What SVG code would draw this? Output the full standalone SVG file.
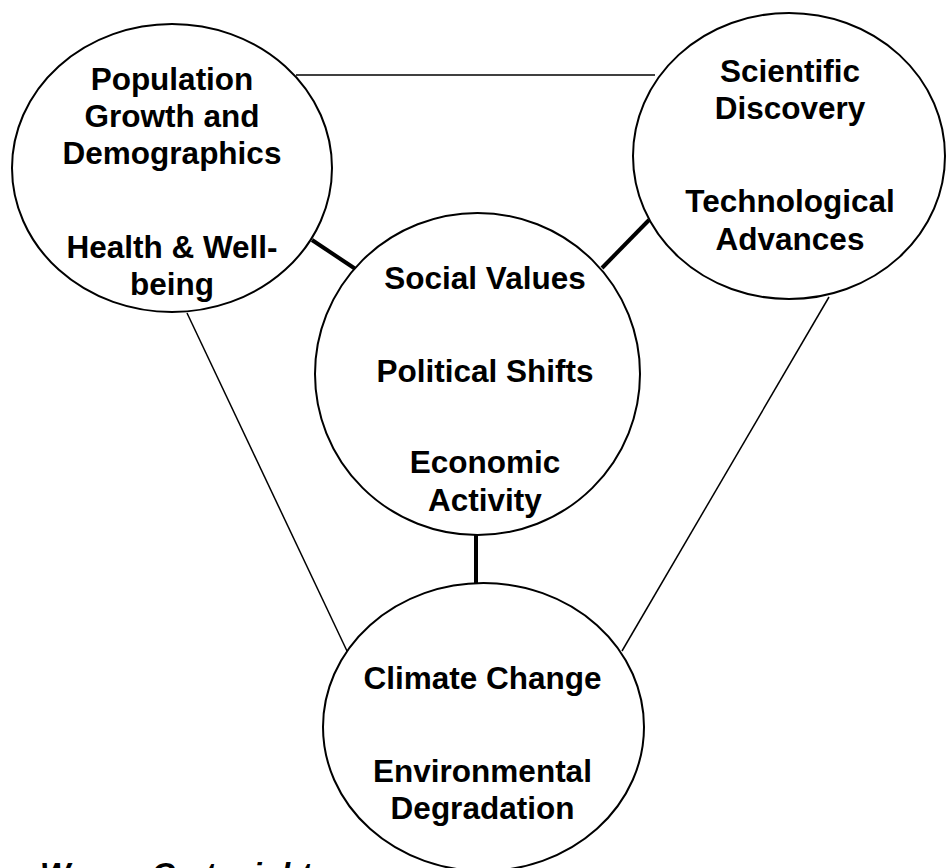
<svg xmlns="http://www.w3.org/2000/svg" width="947" height="868" viewBox="0 0 947 868">
<style>
.bg{fill:#fff}
.node{fill:#fff;stroke:#000;stroke-width:2}
.thin{stroke:#000;stroke-width:1.5;fill:none}
.thick{stroke:#000;stroke-width:4;fill:none}
text{font-family:"Liberation Sans",Arial,sans-serif;font-weight:bold;font-size:31.5px;fill:#000;text-anchor:middle}
.credit{font-style:italic;text-anchor:start;font-size:32px}
</style>
<rect class="bg" x="0" y="0" width="947" height="868"/>
<g id="connectors">
<line class="thin" x1="296" y1="75" x2="655" y2="75"/>
<line class="thin" x1="187" y1="313" x2="347" y2="651"/>
<line class="thin" x1="829" y1="297" x2="622" y2="651"/>
<line class="thick" x1="312" y1="240" x2="360" y2="272"/>
<line class="thick" x1="602" y1="268" x2="649" y2="220"/>
<line class="thick" x1="476" y1="535" x2="476" y2="584"/>
</g>
<g id="node-population">
<ellipse class="node" cx="172" cy="168" rx="160" ry="144"/>
<text x="172" y="90">Population</text>
<text x="172" y="127">Growth and</text>
<text x="172" y="164">Demographics</text>
<text x="172" y="258">Health &amp; Well-</text>
<text x="172" y="295">being</text>
</g>
<g id="node-science">
<ellipse class="node" cx="789" cy="156" rx="156" ry="143"/>
<text x="790" y="82">Scientific</text>
<text x="790" y="119">Discovery</text>
<text x="790" y="212">Technological</text>
<text x="790" y="250">Advances</text>
</g>
<g id="node-society">
<ellipse class="node" cx="477.5" cy="374" rx="162.5" ry="161"/>
<text x="485" y="289">Social Values</text>
<text x="485" y="382">Political Shifts</text>
<text x="485" y="473">Economic</text>
<text x="485" y="511">Activity</text>
</g>
<g id="node-climate">
<ellipse class="node" cx="483.5" cy="727" rx="160.5" ry="144"/>
<text x="482.5" y="689">Climate Change</text>
<text x="482.5" y="782">Environmental</text>
<text x="482.5" y="819">Degradation</text>
</g>
<text class="credit" x="40" y="885">Wayne Cartwright</text>
</svg>
